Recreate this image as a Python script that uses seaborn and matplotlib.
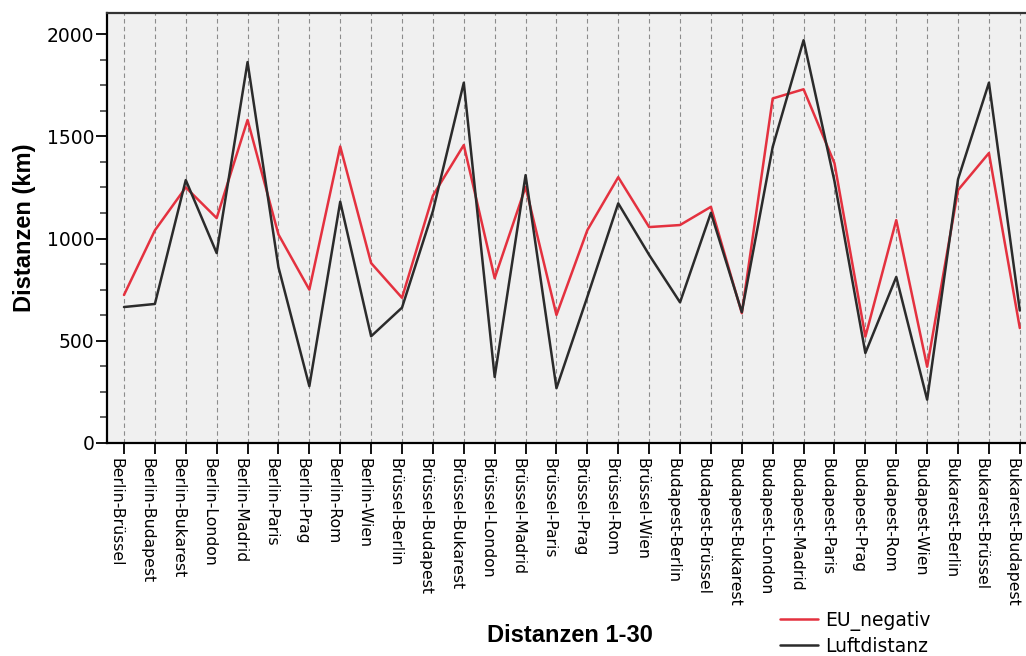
import numpy as np
import pandas as pd
import matplotlib
matplotlib.use("Agg")
import matplotlib.pyplot as plt
from matplotlib.ticker import MultipleLocator
import seaborn as sns

# Stadtpaare (Distanzen 1-30)
pairs = ["Berlin-Brüssel", "Berlin-Budapest", "Berlin-Bukarest", "Berlin-London",
         "Berlin-Madrid", "Berlin-Paris", "Berlin-Prag", "Berlin-Rom", "Berlin-Wien",
         "Brüssel-Berlin", "Brüssel-Budapest", "Brüssel-Bukarest", "Brüssel-London",
         "Brüssel-Madrid", "Brüssel-Paris", "Brüssel-Prag", "Brüssel-Rom", "Brüssel-Wien",
         "Budapest-Berlin", "Budapest-Brüssel", "Budapest-Bukarest", "Budapest-London",
         "Budapest-Madrid", "Budapest-Paris", "Budapest-Prag", "Budapest-Rom",
         "Budapest-Wien", "Bukarest-Berlin", "Bukarest-Brüssel", "Bukarest-Budapest"]

eu_negativ = [724, 1040, 1250, 1100, 1580, 1020, 750, 1450, 880,
              710, 1210, 1457, 806, 1252, 626, 1041, 1300, 1056,
              1066, 1155, 635, 1685, 1730, 1368, 520, 1090,
              373, 1237, 1418, 562]

luftdistanz = [665, 680, 1286, 929, 1863, 860, 278, 1180, 522,
               662, 1134, 1762, 323, 1310, 268, 715, 1172, 920,
               688, 1126, 640, 1448, 1970, 1280, 440, 812,
               212, 1290, 1762, 648]

df = pd.DataFrame({
    "pair": pairs * 2,
    "km": eu_negativ + luftdistanz,
    "series": ["EU_negativ"] * len(pairs) + ["Luftdistanz"] * len(pairs),
})

sns.set_style("ticks")
plt.rcParams["font.family"] = ["DejaVu Sans"]
plt.rcParams["text.color"] = "black"
plt.rcParams["axes.labelcolor"] = "black"
plt.rcParams["xtick.labelcolor"] = "black"
plt.rcParams["ytick.labelcolor"] = "black"

fig = plt.figure(figsize=(10.26, 6.56), dpi=100)
ax = fig.add_axes([107 / 1026, 1 - 443 / 656, 1 - 107 / 1026, (443 - 13) / 656])
ax.set_facecolor("#f0f0f0")

sns.lineplot(data=df, x="pair", y="km", hue="series", sort=False,
             palette={"EU_negativ": "#e4313f", "Luftdistanz": "#2b2b2b"},
             linewidth=1.8, ax=ax)

ax.set_xlim(-0.55, 29.2)
ax.set_ylim(0, 2103)
ax.yaxis.set_major_locator(MultipleLocator(500))
ax.yaxis.set_minor_locator(MultipleLocator(125))

# vertical dashed guide lines at every category
ax.grid(axis="x", color="#8c8c8c", linestyle=(0, (4, 3)), linewidth=0.8)
ax.set_axisbelow(True)

ax.tick_params(axis="x", direction="out", length=8, width=1.3, color="black",
               labelsize=11.3, rotation=270, pad=3)
ax.tick_params(axis="y", which="major", direction="out", length=8, width=1.3,
               color="black", labelsize=13.5, pad=1)
ax.tick_params(axis="y", which="minor", direction="out", length=5, width=1.1,
               color="#333333")
for lab in ax.get_xticklabels():
    lab.set_verticalalignment("top")
    lab.set_horizontalalignment("right")

for side in ["left", "bottom"]:
    ax.spines[side].set_linewidth(1.6)
    ax.spines[side].set_color("black")
ax.spines["top"].set_visible(True)
ax.spines["top"].set_linewidth(1.6)
ax.spines["top"].set_color("#333333")
ax.spines["right"].set_visible(False)

ax.set_ylabel("Distanzen (km)", fontsize=17, fontweight="bold",
              family=["Liberation Sans", "DejaVu Sans"], labelpad=8)
ax.set_xlabel("")
fig.text(570 / 1026, 1 - 636 / 656, "Distanzen 1-30", fontsize=17, fontweight="bold",
         family=["Liberation Sans", "DejaVu Sans"], ha="center", va="center")

handles, labels = ax.get_legend_handles_labels()
ax.get_legend().remove()
fig.legend(handles, labels, loc="upper left",
           bbox_to_anchor=(780 / 1026, 1 - 611 / 656), frameon=False,
           fontsize=13.5, handlelength=2.0, handletextpad=0.4,
           labelspacing=0.3, borderpad=0, borderaxespad=0)

fig.savefig("out.png", dpi=100)
